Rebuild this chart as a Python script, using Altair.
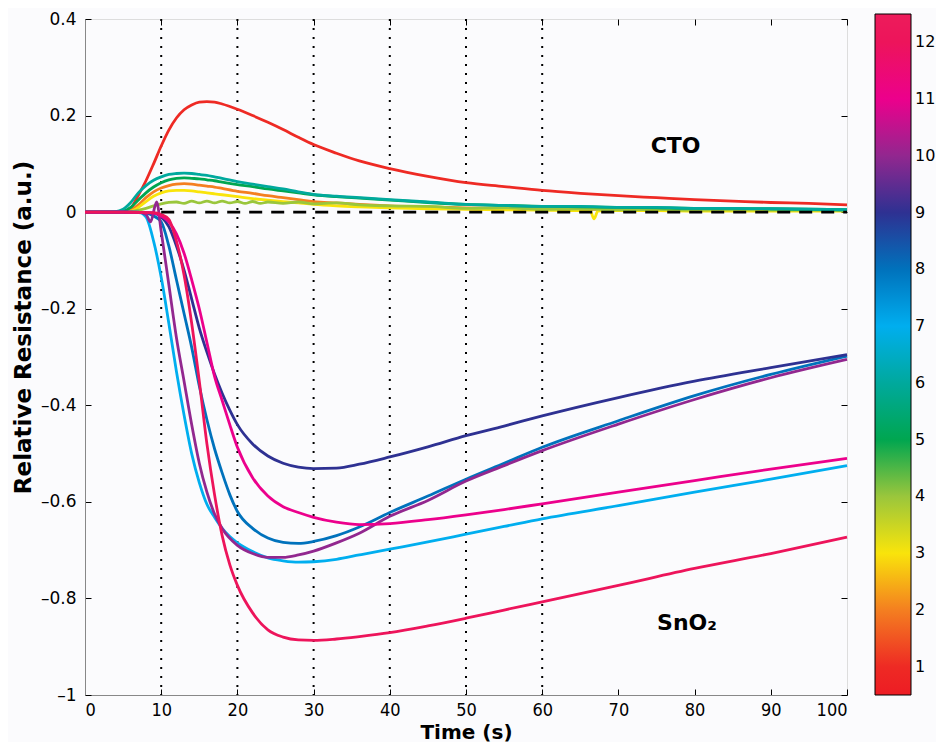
import altair as alt
import pandas as pd

# ---------------- data ----------------
# CTO responses (levels 1-6)
t_c1 = [0, 4, 5, 6, 7, 8, 9, 10, 11, 12, 13, 14, 15, 16, 17, 18, 20, 22, 24, 26, 28, 30, 33, 36, 40, 45, 50, 55, 60, 65, 70, 75, 80, 85, 90, 95, 100]
v_c1 = [0, 0, 0.001, 0.008, 0.035, 0.065, 0.1, 0.137, 0.17, 0.195, 0.212, 0.222, 0.228, 0.229, 0.228, 0.224, 0.213, 0.2, 0.186, 0.171, 0.155, 0.14, 0.122, 0.106, 0.09, 0.074, 0.061, 0.053, 0.045, 0.039, 0.034, 0.03, 0.026, 0.023, 0.02, 0.018, 0.015]

t_c2 = [0, 5, 6, 7, 8, 9, 10, 11, 12, 13, 14, 15, 16, 17, 18, 20, 22, 24, 26, 28, 30, 33, 36, 40, 45, 50, 55, 60, 65, 70, 75, 80, 85, 90, 95, 100]
v_c2 = [0, 0, 0.004, 0.015, 0.03, 0.042, 0.05, 0.055, 0.058, 0.059, 0.058, 0.056, 0.054, 0.052, 0.049, 0.043, 0.039, 0.034, 0.03, 0.026, 0.022, 0.019, 0.016, 0.013, 0.011, 0.009, 0.008, 0.007, 0.006, 0.006, 0.005, 0.005, 0.004, 0.004, 0.004, 0.003]

t_c3 = [0, 5, 6, 7, 8, 9, 10, 11, 12, 13, 14, 15, 16, 17, 18, 20, 22, 24, 26, 28, 30, 33, 36, 40, 45, 50, 55, 60, 65, 66.3, 66.8, 67.3, 68, 70, 75, 80, 85, 90, 95, 100]
v_c3 = [0, 0, 0.002, 0.01, 0.022, 0.033, 0.04, 0.044, 0.045, 0.045, 0.044, 0.042, 0.04, 0.038, 0.036, 0.032, 0.028, 0.025, 0.022, 0.019, 0.016, 0.013, 0.011, 0.009, 0.007, 0.006, 0.005, 0.004, 0.003, 0.003, -0.014, 0.002, 0.003, 0.003, 0.003, 0.002, 0.002, 0.002, 0.002, 0.002]

t_c4 = [0, 5, 6, 7, 8, 9, 10, 11, 12, 13, 14, 15, 16, 17, 18, 19, 20, 21, 22, 23, 24, 26, 28, 30, 33, 36, 40, 45, 50, 55, 60, 65, 70, 75, 80, 85, 90, 95, 100]
v_c4 = [0, 0, 0.001, 0.004, 0.008, 0.013, 0.017, 0.02, 0.021, 0.018, 0.023, 0.019, 0.023, 0.019, 0.023, 0.019, 0.022, 0.018, 0.022, 0.018, 0.021, 0.018, 0.021, 0.017, 0.019, 0.015, 0.013, 0.012, 0.008, 0.009, 0.006, 0.007, 0.005, 0.006, 0.004, 0.005, 0.004, 0.004, 0.003]

t_c5 = [0, 4, 5, 6, 7, 8, 9, 10, 11, 12, 13, 14, 15, 16, 17, 18, 20, 22, 24, 26, 28, 30, 33, 36, 40, 45, 50, 55, 60, 65, 70, 75, 80, 85, 90, 95, 100]
v_c5 = [0, 0, 0.002, 0.01, 0.025, 0.04, 0.052, 0.061, 0.067, 0.07, 0.071, 0.07, 0.069, 0.067, 0.065, 0.062, 0.057, 0.053, 0.048, 0.044, 0.04, 0.036, 0.032, 0.029, 0.025, 0.02, 0.016, 0.014, 0.012, 0.011, 0.01, 0.009, 0.008, 0.008, 0.007, 0.006, 0.005]

t_c6 = [0, 4, 5, 6, 7, 8, 9, 10, 11, 12, 13, 14, 15, 16, 17, 18, 20, 22, 24, 26, 28, 30, 33, 36, 40, 45, 50, 55, 60, 65, 70, 75, 80, 85, 90, 95, 100]
v_c6 = [0, 0.001, 0.006, 0.02, 0.04, 0.055, 0.066, 0.073, 0.078, 0.08, 0.081, 0.08, 0.078, 0.076, 0.073, 0.07, 0.063, 0.058, 0.053, 0.048, 0.042, 0.037, 0.033, 0.03, 0.026, 0.021, 0.016, 0.014, 0.012, 0.012, 0.01, 0.01, 0.008, 0.008, 0.007, 0.006, 0.005]

# SnO2 responses (levels 7-12)
t_s7 = [0, 5, 7, 8, 9, 10, 11, 12, 13, 14, 15, 16, 17, 18, 19, 20, 22, 24, 26, 28, 30, 33, 36, 40, 45, 50, 55, 60, 70, 80, 90, 100]
v_s7 = [0, 0, 0, -0.01, -0.06, -0.135, -0.23, -0.33, -0.42, -0.5, -0.56, -0.605, -0.632, -0.655, -0.672, -0.685, -0.703, -0.716, -0.722, -0.725, -0.724, -0.719, -0.71, -0.698, -0.683, -0.667, -0.651, -0.635, -0.608, -0.58, -0.553, -0.525]

t_s8 = [0, 5, 8, 9, 10, 11, 12, 13, 14, 15, 16, 17, 18, 19, 20, 22, 24, 26, 28, 30, 33, 36, 40, 45, 50, 55, 60, 70, 80, 90, 100]
v_s8 = [0, 0, -0.002, -0.008, -0.02, -0.07, -0.14, -0.21, -0.28, -0.36, -0.43, -0.49, -0.54, -0.585, -0.62, -0.655, -0.675, -0.684, -0.686, -0.682, -0.67, -0.652, -0.622, -0.588, -0.553, -0.52, -0.487, -0.432, -0.38, -0.336, -0.298]

t_s9 = [0, 5, 9, 10, 11, 12, 13, 14, 15, 16, 17, 18, 19, 20, 22, 24, 26, 28, 30, 33, 36, 40, 45, 50, 55, 60, 70, 80, 90, 100]
v_s9 = [0, 0, -0.002, -0.01, -0.03, -0.07, -0.12, -0.18, -0.24, -0.29, -0.335, -0.375, -0.41, -0.44, -0.48, -0.505, -0.52, -0.528, -0.531, -0.53, -0.522, -0.507, -0.486, -0.463, -0.443, -0.422, -0.384, -0.35, -0.322, -0.295]

t_s10 = [0, 5, 7, 8, 8.6, 9.4, 10, 11, 12, 13, 14, 15, 16, 17, 18, 20, 22, 24, 26, 28, 30, 33, 36, 40, 45, 50, 55, 60, 70, 80, 90, 100]
v_s10 = [0, 0, 0, -0.005, -0.02, 0.021, -0.04, -0.15, -0.26, -0.35, -0.44, -0.52, -0.58, -0.625, -0.655, -0.69, -0.707, -0.715, -0.715, -0.71, -0.702, -0.685, -0.665, -0.63, -0.597, -0.557, -0.525, -0.494, -0.439, -0.388, -0.343, -0.305]

t_s11 = [0, 5, 9, 10, 11, 12, 13, 14, 15, 16, 17, 18, 19, 20, 22, 24, 26, 28, 30, 33, 36, 40, 45, 50, 55, 60, 70, 80, 90, 100]
v_s11 = [0, 0, -0.002, -0.008, -0.02, -0.045, -0.085, -0.14, -0.2, -0.27, -0.34, -0.39, -0.44, -0.487, -0.55, -0.588, -0.61, -0.622, -0.632, -0.642, -0.647, -0.645, -0.637, -0.627, -0.616, -0.604, -0.58, -0.556, -0.532, -0.51]

t_s12 = [0, 5, 9, 10, 11, 12, 13, 14, 15, 16, 17, 18, 19, 20, 22, 24, 26, 28, 30, 33, 36, 40, 45, 50, 55, 60, 70, 80, 90, 100]
v_s12 = [0, 0, -0.001, -0.005, -0.015, -0.06, -0.13, -0.23, -0.35, -0.48, -0.585, -0.67, -0.73, -0.773, -0.83, -0.865, -0.88, -0.886, -0.887, -0.884, -0.879, -0.871, -0.857, -0.841, -0.824, -0.807, -0.773, -0.738, -0.707, -0.673]

series = [
    (1, "CTO", t_c1, v_c1), (2, "CTO", t_c2, v_c2), (3, "CTO", t_c3, v_c3),
    (4, "CTO", t_c4, v_c4), (5, "CTO", t_c5, v_c5), (6, "CTO", t_c6, v_c6),
    (7, "SnO2", t_s7, v_s7), (8, "SnO2", t_s8, v_s8), (9, "SnO2", t_s9, v_s9),
    (10, "SnO2", t_s10, v_s10), (11, "SnO2", t_s11, v_s11), (12, "SnO2", t_s12, v_s12),
]

# colour bar
level_stops = [0.5, 1, 2, 3, 4, 5, 6, 7, 8, 9, 10, 11, 12, 12.5]
level_colors = ["#ed1c24", "#ee2a24", "#f47f20", "#f9e40b", "#9ac63c", "#00a650", "#00a99d",
                "#00aeef", "#0072bc", "#2e3192", "#92278f", "#ec008c", "#ed145b", "#ed1c5b"]
bar_ticks = [1, 2, 3, 4, 5, 6, 7, 8, 9, 10, 11, 12]

# stimulus markers, zero reference line, labels
marker_times = [10, 20, 30, 40, 50, 60]
zero_start, zero_end = [10], [100]
label_text = ["CTO", "SnO₂"]
label_t = [77.5, 79]
label_v = [0.137, -0.85]

x_ticks = [0, 10, 20, 30, 40, 50, 60, 70, 80, 90, 100]
y_ticks = [-1, -0.8, -0.6, -0.4, -0.2, 0, 0.2, 0.4]

# ---------------- build tables ----------------
rows = []
for level, group, ts, vs in series:
    for t, v in zip(ts, vs):
        rows.append({"t": t, "v": v, "level": level, "series": f"{level:02d}-{group}"})
df = pd.DataFrame(rows)
df_mark = pd.DataFrame({"t": marker_times})
df_zero = pd.DataFrame({"t": zero_start, "t2": zero_end, "v": [0]})
df_lab = pd.DataFrame({"t": label_t, "v": label_v, "txt": label_text})

W, H = 762, 676
xscale = alt.Scale(domain=[0, 100], nice=False, zero=False)
yscale = alt.Scale(domain=[-1, 0.4], nice=False, zero=False)
INWARD = {"expr": "-6"}
NARROW = "DejaVu Sans Condensed, Liberation Sans Narrow, DejaVu Sans"

x_axis = alt.Axis(values=x_ticks, format="d", title="Time (s)", grid=False,
                  tickSize=INWARD, tickColor="black", tickWidth=1,
                  labelPadding=12, labelFont=NARROW, labelFontSize=18,
                  titleFont="DejaVu Sans", titleFontSize=20, titleFontWeight="bold",
                  titlePadding=3)
y_axis = alt.Axis(values=y_ticks, title="Relative Resistance (a.u.)", grid=False,
                  labelExpr="datum.value < 0 ? '–' + format(-datum.value, '~g') : format(datum.value, '~g')",
                  tickSize=INWARD, tickColor="black", tickWidth=1,
                  labelPadding=15, labelFont="DejaVu Sans", labelFontSize=17,
                  titleFont="DejaVu Sans", titleFontSize=23, titleFontWeight="bold",
                  titlePadding=5, titleY=308)

markers = alt.Chart(df_mark).mark_rule(color="black", strokeWidth=2, strokeDash=[2, 7]).encode(
    x=alt.X("t:Q", scale=xscale, axis=None),
)

lines = alt.Chart(df).mark_line(strokeWidth=2.8, interpolate="monotone").encode(
    x=alt.X("t:Q", scale=xscale, axis=x_axis),
    y=alt.Y("v:Q", scale=yscale, axis=y_axis),
    color=alt.Color("level:Q",
                    scale=alt.Scale(domain=level_stops, range=level_colors),
                    legend=alt.Legend(orient="none", legendX=790, legendY=-5, direction="vertical",
                                      gradientLength=681, gradientThickness=36, values=bar_ticks,
                                      title=None, labelFontSize=16, labelFont="DejaVu Sans",
                                      labelColor="black", labelOffset=4, padding=0,
                                      gradientStrokeColor="black", gradientStrokeWidth=1)),
    detail="series:N",
    order="t:Q",
)

zero = alt.Chart(df_zero).mark_rule(color="black", strokeWidth=2.6, strokeDash=[13, 9]).encode(
    x=alt.X("t:Q", scale=xscale,
            axis=alt.Axis(orient="top", values=x_ticks, labels=False, title=None, domain=False,
                          tickSize=INWARD, tickColor="black", grid=False)),
    x2="t2:Q",
    y=alt.Y("v:Q", scale=yscale,
            axis=alt.Axis(orient="right", values=y_ticks, labels=False, title=None, domain=False,
                          tickSize=INWARD, tickColor="black", grid=False)),
)

labels = alt.Chart(df_lab).mark_text(font="DejaVu Sans", fontSize=22, fontWeight="bold",
                                     color="black").encode(
    x=alt.X("t:Q", scale=xscale, axis=None),
    y=alt.Y("v:Q", scale=yscale, axis=None),
    text="txt:N",
)

chart = alt.layer(markers, lines, zero, labels).resolve_axis(
    x="independent", y="independent"
).properties(
    width=W, height=H,
    padding={"left": 4, "top": 2, "right": 0, "bottom": 0},
).configure_view(
    stroke="black", strokeWidth=1.5
).configure_axis(
    domainColor="black", domainWidth=1.5, labelColor="black", titleColor="black"
).configure(background="#fbfbfd")

chart.save("out.html", embed_options={"renderer": "svg", "actions": False})
